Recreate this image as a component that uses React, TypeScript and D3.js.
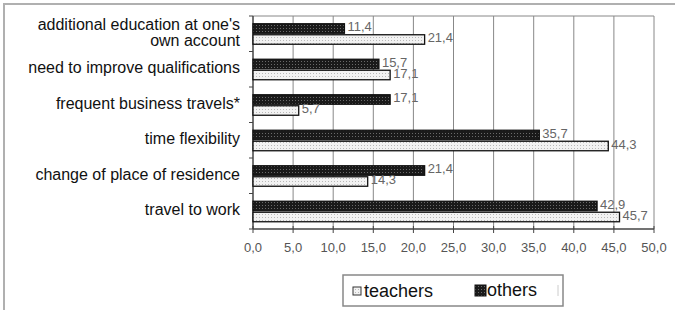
import { useEffect, useRef } from 'react'
import * as d3 from 'd3'

const categories = [
  ["additional education at one's", 'own account'],
  ['need to improve qualifications'],
  ['frequent business travels*'],
  ['time flexibility'],
  ['change of place of residence'],
  ['travel to work']
]
const others = [11.4, 15.7, 17.1, 35.7, 21.4, 42.9]
const teachers = [21.4, 17.1, 5.7, 44.3, 14.3, 45.7]
const xTicks = [0, 5, 10, 15, 20, 25, 30, 35, 40, 45, 50]

const fmt = (v: number) => v.toFixed(1).replace('.', ',')
const font = 'Liberation Sans, Arial, sans-serif'

export default function App() {
  const svgRef = useRef<SVGSVGElement>(null)

  useEffect(() => {
    if (!svgRef.current) return
    const svg = d3.select(svgRef.current)
    svg.selectAll('*').remove()

    const left = 253, right = 654, top = 16, bottom = 229

    const x = d3.scaleLinear().domain([0, 50]).range([left, right])
    const y = d3.scaleBand()
      .domain(categories.map((_, i) => String(i)))
      .range([top, bottom])

    // patterns for the dotted fills
    const defs = svg.append('defs')
    const dark = defs.append('pattern')
      .attr('id', 'darkDots').attr('width', 3).attr('height', 3)
      .attr('patternUnits', 'userSpaceOnUse')
    dark.append('rect').attr('width', 3).attr('height', 3).attr('fill', '#1a1a1a')
    dark.append('rect').attr('x', 1).attr('y', 1).attr('width', 1).attr('height', 1).attr('fill', '#6a6a6a')
    const light = defs.append('pattern')
      .attr('id', 'lightDots').attr('width', 3).attr('height', 3)
      .attr('patternUnits', 'userSpaceOnUse')
    light.append('rect').attr('width', 3).attr('height', 3).attr('fill', '#f2f2f2')
    light.append('rect').attr('x', 1).attr('y', 1).attr('width', 1).attr('height', 1).attr('fill', '#b8b8b8')

    svg.append('rect').attr('width', 675).attr('height', 310).attr('fill', '#fff')

    // outer frame
    svg.append('rect')
      .attr('x', 4).attr('y', 4).attr('width', 720).attr('height', 400)
      .attr('fill', 'none').attr('stroke', '#b0b0b0').attr('stroke-width', 2)

    // grid
    svg.append('g').selectAll('line')
      .data(xTicks.slice(1))
      .enter().append('line')
      .attr('x1', d => x(d)).attr('x2', d => x(d))
      .attr('y1', top).attr('y2', bottom)
      .attr('stroke', '#888').attr('stroke-width', 1)
    svg.append('line')
      .attr('x1', left).attr('x2', right).attr('y1', top).attr('y2', top)
      .attr('stroke', '#888')

    // y axis
    svg.append('line')
      .attr('x1', left).attr('x2', left).attr('y1', top).attr('y2', bottom)
      .attr('stroke', '#444').attr('stroke-width', 1.5)
    svg.append('g').selectAll('line')
      .data(d3.range(categories.length + 1))
      .enter().append('line')
      .attr('x1', left - 4).attr('x2', left)
      .attr('y1', d => top + d * y.step()).attr('y2', d => top + d * y.step())
      .attr('stroke', '#444')

    // x axis
    svg.append('line')
      .attr('x1', left).attr('x2', right).attr('y1', bottom).attr('y2', bottom)
      .attr('stroke', '#444').attr('stroke-width', 1.5)
    svg.append('g').selectAll('line')
      .data(xTicks)
      .enter().append('line')
      .attr('x1', d => x(d)).attr('x2', d => x(d))
      .attr('y1', bottom - 3).attr('y2', bottom + 4)
      .attr('stroke', '#444')
    svg.append('g').selectAll('text')
      .data(xTicks)
      .enter().append('text')
      .attr('x', d => x(d)).attr('y', 252)
      .attr('text-anchor', 'middle')
      .attr('font-family', font)
      .attr('font-size', 13).attr('fill', '#555')
      .text(d => fmt(d))

    // category labels
    categories.forEach((lines, i) => {
      const cy = (y(String(i)) || 0) + y.bandwidth() / 2
      const t = svg.append('text')
        .attr('x', 240).attr('text-anchor', 'end')
        .attr('font-family', font)
        .attr('font-size', 16).attr('fill', '#111')
      lines.forEach((ln, j) => {
        t.append('tspan')
          .attr('x', 240)
          .attr('y', cy + 4 + (j - (lines.length - 1) / 2) * 16.5)
          .text(ln)
      })
    })

    // bars
    const barH = 9.5
    const series = [
      { values: others, fill: 'url(#darkDots)', off: -barH - 0.5 },
      { values: teachers, fill: 'url(#lightDots)', off: 1 }
    ]
    series.forEach(s => {
      const g = svg.append('g')
      g.selectAll('rect')
        .data(s.values)
        .enter().append('rect')
        .attr('x', left)
        .attr('y', (_, i) => (y(String(i)) || 0) + y.bandwidth() / 2 + s.off)
        .attr('width', d => x(d) - left)
        .attr('height', barH)
        .attr('fill', s.fill)
        .attr('stroke', '#111').attr('stroke-width', 1.3)
      g.selectAll('text')
        .data(s.values)
        .enter().append('text')
        .attr('x', d => x(d) + 3)
        .attr('y', (_, i) => (y(String(i)) || 0) + y.bandwidth() / 2 + s.off + barH / 2 + 2.5)
        .attr('font-family', font)
        .attr('font-size', 13).attr('fill', '#666')
        .text(d => fmt(d))
    })

    // legend
    const lg = svg.append('g')
    lg.append('rect')
      .attr('x', 343).attr('y', 275).attr('width', 220).attr('height', 31)
      .attr('fill', '#fff').attr('stroke', '#888').attr('stroke-width', 1.5)
    lg.append('rect')
      .attr('x', 353).attr('y', 287).attr('width', 8).attr('height', 8)
      .attr('fill', 'url(#lightDots)').attr('stroke', '#333')
    lg.append('text')
      .attr('x', 364).attr('y', 297)
      .attr('font-family', font)
      .attr('font-size', 18).attr('fill', '#111')
      .text('teachers')
    lg.append('rect')
      .attr('x', 475).attr('y', 285).attr('width', 11).attr('height', 11)
      .attr('fill', 'url(#darkDots)').attr('stroke', '#111')
    lg.append('text')
      .attr('x', 487).attr('y', 296)
      .attr('font-family', font)
      .attr('font-size', 18).attr('fill', '#111')
      .text('others')
    lg.append('line')
      .attr('x1', 558).attr('x2', 558).attr('y1', 285).attr('y2', 296)
      .attr('stroke', '#ccc')
  }, [])

  return (
    <svg
      ref={svgRef}
      width={675}
      height={310}
      style={{ position: 'absolute', left: 0, top: 0 }}
    />
  )
}
